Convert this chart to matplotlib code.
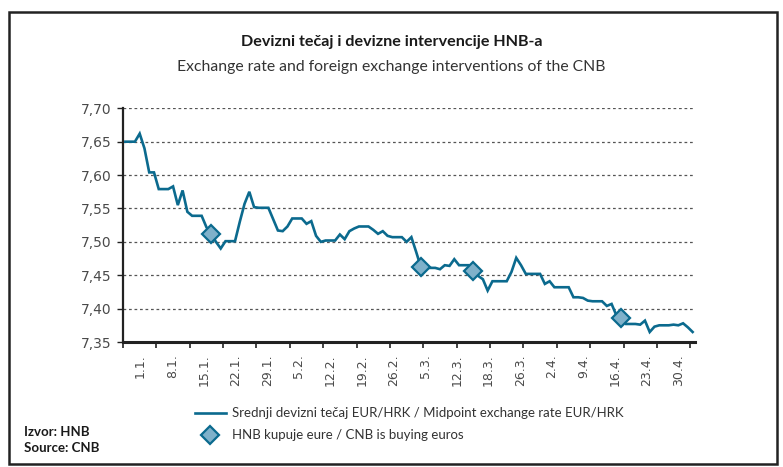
import matplotlib.pyplot as plt
from matplotlib.lines import Line2D
from matplotlib.patches import Rectangle
import numpy as np

# -- daily midpoint EUR/HRK, 1.1. - 30.4. (weekend values carried) --
rate = [
    7.650, 7.650, 7.650, 7.662, 7.640, 7.604, 7.604,
    7.579, 7.579, 7.579, 7.583, 7.555, 7.577, 7.545,
    7.539, 7.539, 7.539, 7.522, 7.512, 7.500, 7.490,
    7.501, 7.501, 7.501, 7.530, 7.557, 7.575, 7.552,
    7.551, 7.551, 7.551, 7.534, 7.517, 7.516, 7.523,
    7.535, 7.535, 7.535, 7.527, 7.531, 7.509, 7.500,
    7.502, 7.502, 7.502, 7.511, 7.504, 7.516, 7.520,
    7.523, 7.523, 7.523, 7.518, 7.512, 7.516, 7.509,
    7.507, 7.507, 7.507, 7.500, 7.507, 7.485, 7.462,
    7.461, 7.461, 7.461, 7.459, 7.465, 7.464, 7.474,
    7.465, 7.465, 7.465, 7.456, 7.449, 7.444, 7.427,
    7.441, 7.441, 7.441, 7.441, 7.455, 7.476, 7.465,
    7.452, 7.452, 7.452, 7.452, 7.437, 7.441, 7.432,
    7.432, 7.432, 7.432, 7.417, 7.417, 7.416, 7.412,
    7.411, 7.411, 7.411, 7.404, 7.407, 7.390, 7.386,
    7.377, 7.377, 7.377, 7.376, 7.382, 7.365, 7.373,
    7.375, 7.375, 7.375, 7.376, 7.375, 7.378, 7.372,
    7.365,
]
# -- CNB interventions (day index, rate) --
buy_day = [18, 62, 73, 104]
buy_rate = [7.512, 7.462, 7.456, 7.386]

week_labels = ["1.1.", "8.1.", "15.1.", "22.1.", "29.1.", "5.2.", "12.2.", "19.2.", "26.2.",
               "5.3.", "12.3.", "18.3.", "26.3.", "2.4.", "9.4.", "16.4.", "23.4.", "30.4."]
y_ticks = [7.35, 7.40, 7.45, 7.50, 7.55, 7.60, 7.65, 7.70]

LINE = "#0b6a8e"
FILL = "#7fb1ca"
TXT = ["Lato", "DejaVu Sans"]

days = np.arange(len(rate))

fig = plt.figure(figsize=(7.83, 4.67), dpi=100)
ax = fig.add_axes([123 / 783, 1 - 342 / 467, (695 - 123) / 783, (342 - 108.3) / 467])

ax.plot(days, rate, color=LINE, linewidth=1.9, solid_joinstyle="miter", zorder=3)
ax.plot(buy_day, buy_rate, linestyle="none", marker="D", markersize=9,
        markerfacecolor=FILL, markeredgecolor=LINE, markeredgewidth=1.6, zorder=4)

ax.set_xlim(-0.5, len(rate) - 0.5)
ax.set_ylim(7.35, 7.70)

# y axis
ax.set_yticks(y_ticks)
ax.set_yticklabels([f"{v:.2f}".replace(".", ",") for v in y_ticks],
                   fontsize=10, color="#4a4a4a")
ax.tick_params(axis="y", direction="out", length=4, width=1, color="#222222", pad=4)
for v in y_ticks[1:]:
    ax.axhline(v, color="#555555", linewidth=0.9, linestyle=(0, (2.2, 2.2)), zorder=1)

# x axis: week boundaries as tick marks, labels spread across the axis
ax.set_xticks(np.arange(-0.5, len(rate), 7), minor=True)
ax.tick_params(axis="x", which="minor", direction="out", length=4, width=1.2, color="#222222")
lab_pos = np.linspace(3.2, 116.0, len(week_labels))
ax.set_xticks(lab_pos)
ax.set_xticklabels(week_labels, rotation=90, fontsize=9, color="#4a4a4a")
ax.tick_params(axis="x", which="major", length=0, pad=9)

for s in ("top", "right"):
    ax.spines[s].set_visible(False)
ax.spines["left"].set_linewidth(1.6)
ax.spines["left"].set_color("#222222")
ax.spines["bottom"].set_linewidth(2.2)
ax.spines["bottom"].set_color("#222222")

# titles
fig.text(0.5, 1 - 42 / 467, "Devizni tečaj i devizne intervencije HNB-a", ha="center", va="center",
         fontsize=11.6, fontweight="bold", family=TXT, color="#1a1a1a")
fig.text(0.5, 1 - 67 / 467, "Exchange rate and foreign exchange interventions of the CNB",
         ha="center", va="center", fontsize=11.3, family=TXT, color="#333333")

# legend
handles = [
    Line2D([], [], color=LINE, linewidth=1.9),
    Line2D([], [], linestyle="none", marker="D", markersize=9, markerfacecolor=FILL,
           markeredgecolor=LINE, markeredgewidth=1.6),
]
fig.legend(handles,
           ["Srednji devizni tečaj EUR/HRK / Midpoint exchange rate EUR/HRK",
            "HNB kupuje eure / CNB is buying euros"],
           loc="upper left", bbox_to_anchor=(190 / 783, 1 - 402 / 467), frameon=False,
           prop={"family": TXT, "size": 9.5}, labelcolor="#333333",
           handlelength=2.3, handletextpad=0.5, labelspacing=0.75, borderaxespad=0)

# source
fig.text(24 / 783, 1 - 432 / 467, "Izvor: HNB", fontsize=9.5, fontweight="bold",
         family=TXT, va="center", color="#1a1a1a")
fig.text(24 / 783, 1 - 448 / 467, "Source: CNB", fontsize=9.5, fontweight="bold",
         family=TXT, va="center", color="#1a1a1a")

# outer frame
fig.add_artist(Rectangle((9 / 783, 3 / 467), (777 - 9) / 783, (455 - 3) / 467,
                         transform=fig.transFigure, fill=False, edgecolor="#222222", linewidth=1.8))

fig.savefig("out.png", dpi=100)
